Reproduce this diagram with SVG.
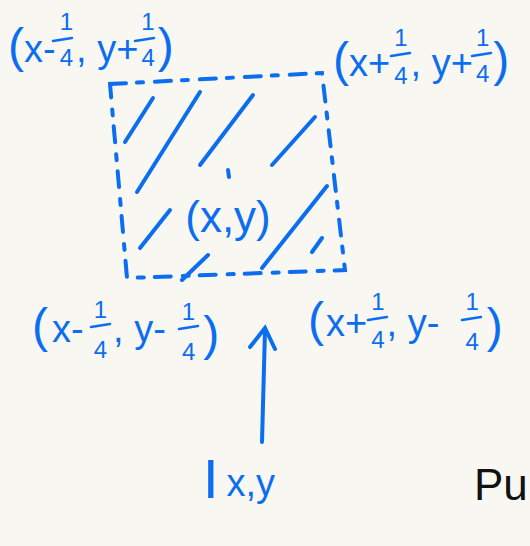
<svg xmlns="http://www.w3.org/2000/svg" width="530" height="546" viewBox="0 0 530 546">
<style>
.t{font-family:"Liberation Sans","DejaVu Sans",sans-serif;fill:#0b6df0;font-size:38px}
.p{font-size:48px}
.f{font-size:24px}
.ink{stroke:#0b6df0;stroke-width:4;stroke-linecap:round;fill:none}
.bar{stroke:#0b6df0;stroke-width:2.5;stroke-linecap:round}
</style>
<rect width="530" height="546" fill="#f9f7f2"/>

<g id="square">
<polygon class="ink" points="110,84 322,73 345,270 127,278" stroke-dasharray="16,11,6,12"/>
<g class="ink">
<line x1="153" y1="98" x2="125" y2="142"/>
<line x1="200" y1="92" x2="137" y2="192"/>
<line x1="253" y1="95" x2="200" y2="165"/>
<line x1="315" y1="117" x2="272" y2="165"/>
<line x1="170" y1="210" x2="140" y2="248"/>
<line x1="327" y1="186" x2="262" y2="268"/>
<line x1="322" y1="238" x2="312" y2="252"/>
<line x1="208" y1="255" x2="182" y2="280"/>
<line x1="228" y1="170" x2="229" y2="177"/>
</g>
</g>

<g id="center">
<text class="t" style="font-size:44px" x="228" y="232" text-anchor="middle">(x,y)</text>
</g>

<g id="label-tl">
<text class="t" x="8" y="62"><tspan class="p">(</tspan>x-<tspan class="f" dx="4" dy="-32">1</tspan><tspan class="f" dx="-13.3" dy="36">4</tspan><tspan dx="3" dy="-4">, y+</tspan><tspan class="f" dx="3" dy="-32">1</tspan><tspan class="f" dx="-13.3" dy="36">4</tspan><tspan class="p" dx="3" dy="-4">)</tspan></text>
<line class="bar" x1="53" y1="41" x2="72" y2="38"/>
<line class="bar" x1="135" y1="41" x2="154" y2="38"/>
</g>

<g id="label-tr">
<text class="t" x="333" y="76"><tspan class="p">(</tspan>x+<tspan class="f" dx="4" dy="-30">1</tspan><tspan class="f" dx="-13.3" dy="38">4</tspan><tspan dx="3" dy="-8">, y+</tspan><tspan class="f" dx="3" dy="-30">1</tspan><tspan class="f" dx="-13.3" dy="36">4</tspan><tspan class="p" dx="4" dy="-6">)</tspan></text>
<line class="bar" x1="391" y1="56" x2="410" y2="53"/>
<line class="bar" x1="472" y1="56" x2="491" y2="53"/>
</g>

<g id="label-bl">
<text class="t" x="32" y="342"><tspan class="p">(</tspan><tspan dx="4">x-</tspan><tspan class="f" dx="10" dy="-24">1</tspan><tspan class="f" dx="-13.3" dy="40">4</tspan><tspan dx="6" dy="-16">, y-</tspan><tspan class="f" dx="16" dy="-22">1</tspan><tspan class="f" dx="-13.3" dy="40">4</tspan><tspan class="p" dx="8" dy="-10">)</tspan></text>
<line class="bar" x1="91" y1="327" x2="110" y2="324"/>
<line class="bar" x1="179" y1="329" x2="198" y2="326"/>
</g>

<g id="label-br">
<text class="t" x="308" y="336"><tspan class="p">(</tspan><tspan dx="2">x+</tspan><tspan class="f" dx="4" dy="-26">1</tspan><tspan class="f" dx="-13.3" dy="38">4</tspan><tspan dx="2" dy="-12">, y-</tspan><tspan class="f" dx="26" dy="-26">1</tspan><tspan class="f" dx="-13.3" dy="40">4</tspan><tspan class="p" dx="8" dy="-8">)</tspan></text>
<line class="bar" x1="368" y1="320" x2="387" y2="317"/>
<line class="bar" x1="462" y1="320" x2="481" y2="317"/>
</g>

<g id="connectors">
<path class="ink" d="M262,442 L265,330"/>
<path class="ink" d="M250,347 L265,328 L275,349"/>
</g>

<g id="label-I">
<text class="t" x="203" y="498"><tspan style="font-size:56px">I</tspan><tspan dx="8" dy="-2">x,y</tspan></text>
</g>

<g id="label-pu">
<text style="font-family:'Liberation Sans','DejaVu Sans',sans-serif;font-size:44px;fill:#111" x="474" y="500">Pu</text>
</g>
</svg>
